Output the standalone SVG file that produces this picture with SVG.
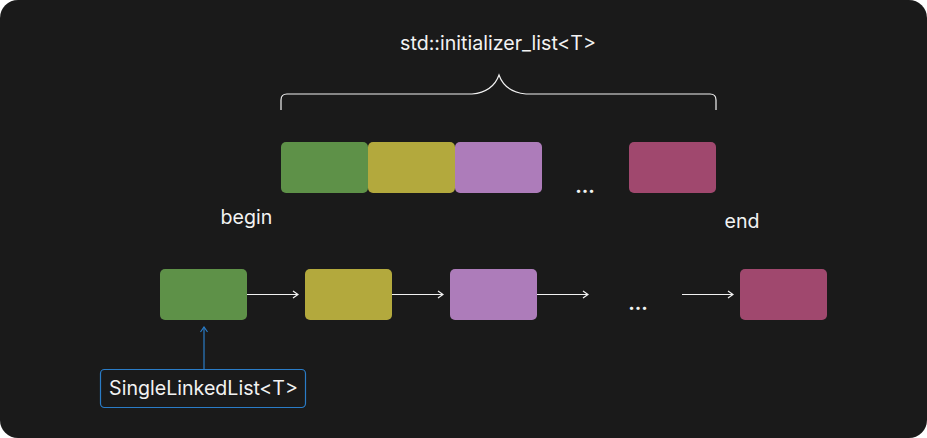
<svg xmlns="http://www.w3.org/2000/svg" width="927" height="438" viewBox="0 0 927 438">
<defs>
<style>
.t{font-family:Inter,"Liberation Sans",sans-serif;font-size:19.6px;fill:#f2f2f2}
.g{fill:#5e9148}.y{fill:#b3a93d}.p{fill:#ad7cba}.m{fill:#a0486e}
.c{stroke:#f2f2f2;stroke-width:1.2;fill:none}
</style>
<marker id="ah" viewBox="0 0 10 10" refX="9" refY="5" markerWidth="10" markerHeight="10" markerUnits="userSpaceOnUse" orient="auto">
<path d="M4,1.5 L9,5 L4,8.5" fill="none" stroke="#f2f2f2" stroke-width="1.2"/>
</marker>
<marker id="ahb" viewBox="0 0 10 10" refX="9" refY="5" markerWidth="10" markerHeight="10" markerUnits="userSpaceOnUse" orient="auto">
<path d="M4,1.5 L9,5 L4,8.5" fill="none" stroke="#2a7cc7" stroke-width="1.2"/>
</marker>
</defs>
<rect x="0" y="0" width="927" height="438" fill="#ffffff"/>
<rect x="0" y="0" width="927" height="438" rx="18" fill="#1a1a1a"/>
<g id="title"><text class="t" x="498" y="50" text-anchor="middle">std::initializer_list&lt;T&gt;</text></g>
<g id="brace"><path class="c" stroke-width="1.5" d="M281,110 V100 Q281,94 287,94 H472 Q493,92 499,75 Q505,92 526,94 H710 Q716,94 716,100 V110"/></g>
<g id="top-green"><rect class="g" x="281" y="142" width="87" height="51" rx="5"/></g>
<g id="top-yellow"><rect class="y" x="368" y="142" width="87" height="51" rx="5"/></g>
<g id="top-purple"><rect class="p" x="455" y="142" width="87" height="51" rx="5"/></g>
<g id="top-dots"><text class="t" x="585" y="193" text-anchor="middle" font-weight="bold">...</text></g>
<g id="top-magenta"><rect class="m" x="629" y="142" width="87" height="51" rx="5"/></g>
<g id="begin"><text class="t" x="246.5" y="224" text-anchor="middle">begin</text></g>
<g id="end"><text class="t" x="742" y="228" text-anchor="middle">end</text></g>
<g id="node1"><rect class="g" x="160" y="269" width="87" height="51" rx="5"/></g>
<g id="node2"><rect class="y" x="305" y="269" width="87" height="51" rx="5"/></g>
<g id="node3"><rect class="p" x="450" y="269" width="87" height="51" rx="5"/></g>
<g id="dots"><text class="t" x="638" y="310" text-anchor="middle" font-weight="bold">...</text></g>
<g id="node4"><rect class="m" x="740" y="269" width="87" height="51" rx="5"/></g>
<g id="sll"><rect x="100.5" y="369.5" width="205" height="38" rx="4" fill="none" stroke="#2a7cc7" stroke-width="1.2"/>
<text class="t" x="203.5" y="395" text-anchor="middle">SingleLinkedList&lt;T&gt;</text></g>
<g id="connectors">
<line class="c" x1="247" y1="294.5" x2="298" y2="294.5" marker-end="url(#ah)"/>
<line class="c" x1="392" y1="294.5" x2="443" y2="294.5" marker-end="url(#ah)"/>
<line class="c" x1="537" y1="294.5" x2="588" y2="294.5" marker-end="url(#ah)"/>
<line class="c" x1="682" y1="294.5" x2="733" y2="294.5" marker-end="url(#ah)"/>
<line x1="204" y1="369" x2="204" y2="327" stroke="#2a7cc7" stroke-width="1.2" marker-end="url(#ahb)"/>
</g>
</svg>
